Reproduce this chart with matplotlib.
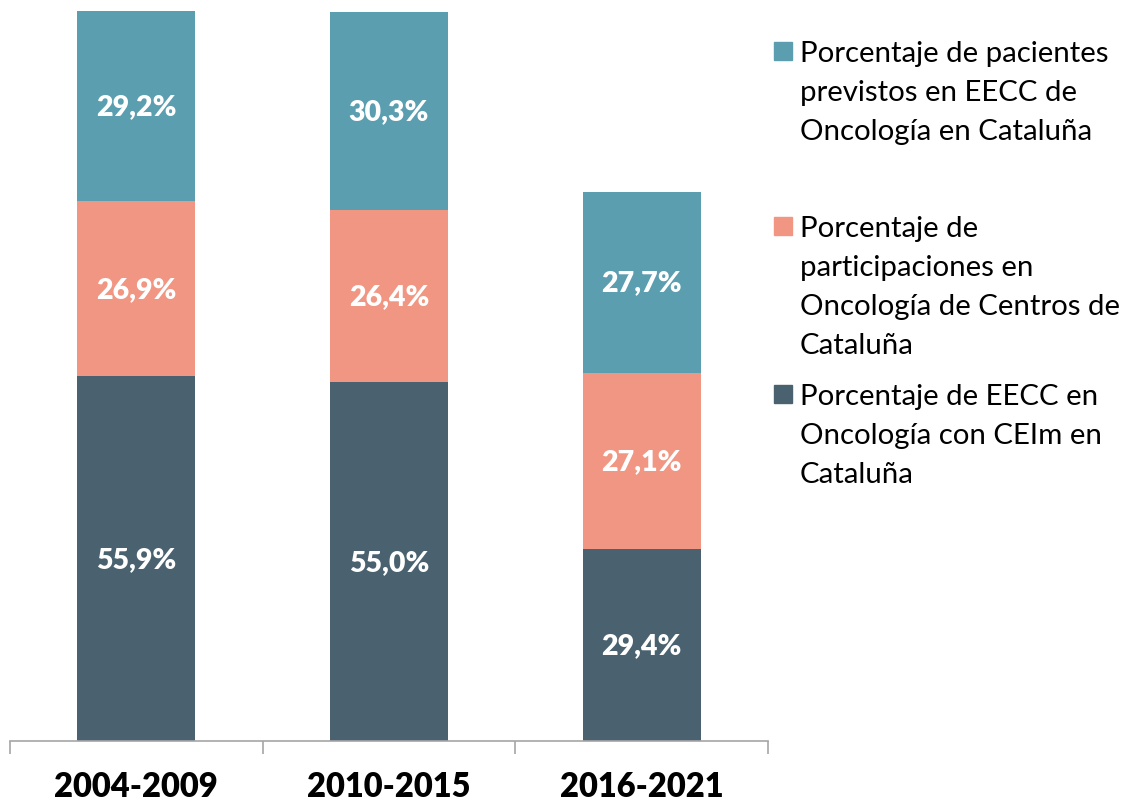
import matplotlib.pyplot as plt
from matplotlib.patches import Rectangle

periods = ["2004-2009", "2010-2015", "2016-2021"]
eecc_ceim = [55.9, 55.0, 29.4]
participaciones = [26.9, 26.4, 27.1]
pacientes = [29.2, 30.3, 27.7]

series = [
    (eecc_ceim, "#4A6270", ["Porcentaje de EECC en", "Oncología con CEIm en", "Cataluña"]),
    (participaciones, "#F09682", ["Porcentaje de", "participaciones en",
                                  "Oncología de Centros de", "Cataluña"]),
    (pacientes, "#5A9EAF", ["Porcentaje de pacientes", "previstos en EECC de",
                            "Oncología en Cataluña"]),
]

plt.rcParams['font.family'] = ['Lato', 'DejaVu Sans']

W, H = 1121, 803
fig = plt.figure(figsize=(W / 100, H / 100), dpi=100)
ax = fig.add_axes([10 / W, 61 / H, 758 / W, 737 / H])

x = list(range(len(periods)))
bottom = [0.0] * len(periods)
for values, color, _ in series:
    ax.bar(x, values, width=0.467, bottom=bottom, color=color)
    for i, v in enumerate(values):
        ax.text(i, bottom[i] + v / 2, f"{v:.1f}%".replace(".", ","),
                ha="center", va="center", color="white", fontsize=20.5, fontweight="heavy")
    bottom = [b + v for b, v in zip(bottom, values)]

ax.set_xlim(-0.5, 2.5)
ax.set_ylim(0, 113)
for side in ["top", "right", "left"]:
    ax.spines[side].set_visible(False)
ax.spines["bottom"].set_color("#A6A6A6")
ax.spines["bottom"].set_linewidth(1.2)
ax.set_yticks([])
ax.set_xticks([-0.5, 0.5, 1.5, 2.5])
ax.set_xticklabels([])
ax.tick_params(axis="x", which="major", direction="out", length=9.5, width=1.2, color="#A6A6A6")
ax.set_xticks(x, minor=True)
ax.set_xticklabels(periods, minor=True, fontsize=23.5, fontweight="heavy")
ax.tick_params(axis="x", which="minor", length=0, pad=21)

# legend drawn by hand so the squares line up with the first line of each label
first_centers = [52, 227, 395]
line_step = 39
for (values, color, lines), ycen in zip(reversed(series), first_centers):
    fig.patches.append(Rectangle((774 / W, 1 - (ycen + 9) / H), 18 / W, 18 / H,
                                 transform=fig.transFigure, color=color))
    for k, line in enumerate(lines):
        fig.text(800 / W, 1 - (ycen + 10 + k * line_step) / H, line,
                 ha="left", va="baseline", fontsize=21.2)

fig.savefig("out.png", dpi=100)
